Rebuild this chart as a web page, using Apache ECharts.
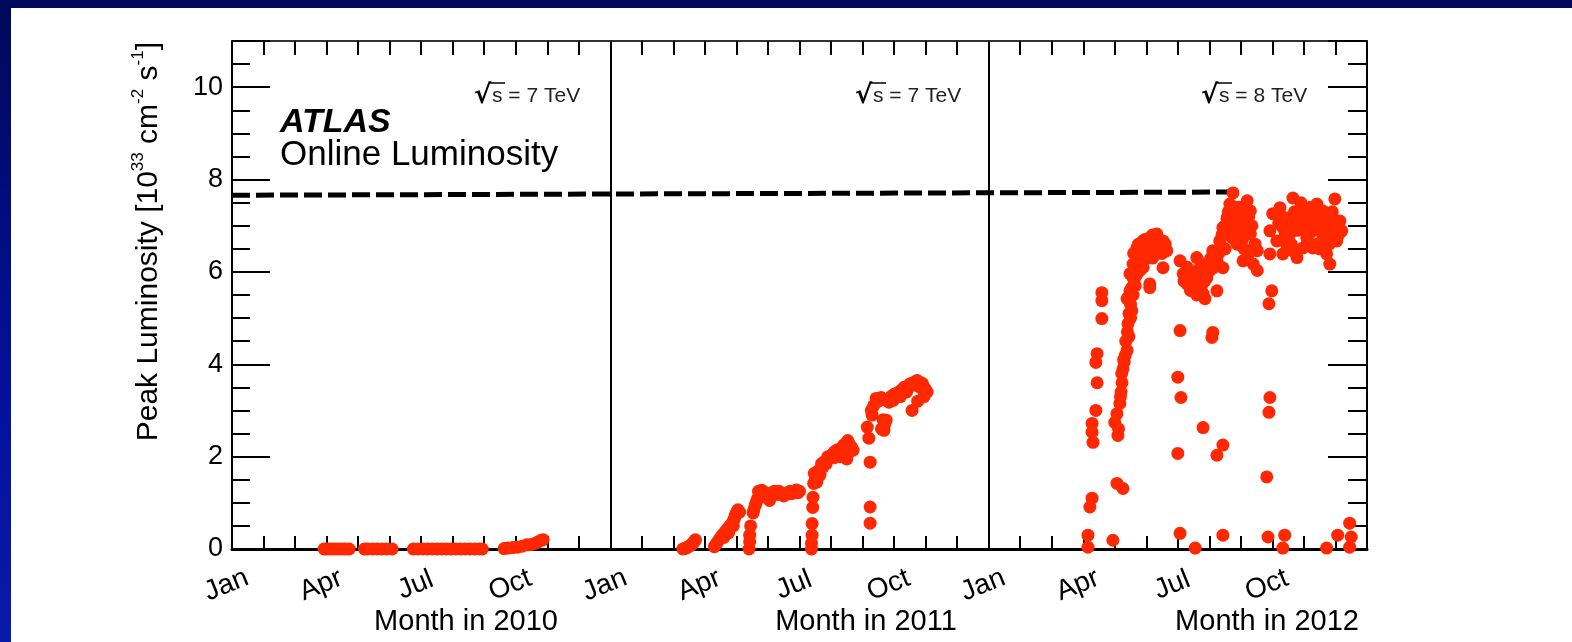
<!DOCTYPE html>
<html>
<head>
<meta charset="utf-8">
<script src="https://cdn.jsdelivr.net/npm/echarts@6/dist/echarts.min.js"></script>
<style>
html,body{margin:0;padding:0;width:1572px;height:642px;overflow:hidden;}
body{background:linear-gradient(180deg,#00085a 0%,#04109a 60%,#0a1aa8 100%);position:relative;}
#paper{position:absolute;left:11px;top:8px;right:0;bottom:0;background:#fff;}
#chart{position:absolute;left:0;top:0;width:1572px;height:642px;}
</style>
</head>
<body>
<div id="paper"></div>
<div id="chart"></div>
<script>
// ---- data (x = month within the year, 0 = 1 Jan; y = peak luminosity in 1e33 cm^-2 s^-1)
const monthNames = ['Jan','Feb','Mar','Apr','May','Jun','Jul','Aug','Sep','Oct','Nov','Dec'];
const years = [2010, 2011, 2012];
const yearTitles = ['Month in 2010','Month in 2011','Month in 2012'];
const energyTexts = ['s = 7 TeV','s = 7 TeV','s = 8 TeV'];
const yTicks = [0,2,4,6,8,10];

const data2010 = [
[2.92,0],[3.0,0],[3.1,0],[3.2,0],[3.3,0],[3.4,0],[3.5,0],[3.6,0],[3.72,0],
[4.2,0],[4.3,0],[4.45,0],[4.6,0],[4.75,0],[4.9,0],[5.08,0],
[5.75,0],[5.9,0],[6.05,0],[6.2,0],[6.35,0],[6.5,0],[6.65,0],[6.8,0],[6.95,0],[7.1,0],[7.25,0],[7.4,0],[7.55,0],[7.7,0],[7.85,0],[7.94,0],
[8.63,0.01],[8.75,0.02],[8.9,0.03],[9.05,0.04],[9.2,0.06],[9.35,0.09],[9.5,0.1],[9.6,0.12],[9.7,0.15],[9.8,0.19],[9.87,0.2]
];

const data2011 = [
[2.3,0.0],[2.35,0.01],[2.4,0.02],[2.45,0.04],[2.5,0.06],[2.55,0.08],[2.58,0.1],[2.62,0.13],[2.65,0.15],[2.68,0.18],[2.7,0.2],
[3.3,0.05],[3.35,0.1],[3.4,0.15],[3.45,0.2],[3.5,0.25],[3.55,0.3],[3.6,0.33],[3.65,0.38],[3.7,0.42],[3.75,0.47],[3.8,0.5],[3.85,0.55],[3.9,0.6],[3.93,0.65],[3.95,0.7],[3.98,0.75],[4.0,0.78],[4.03,0.82],[4.05,0.85],[4.1,0.8],[3.6,0.25],[3.75,0.35],[3.9,0.5],
[4.4,0.0],[4.42,0.15],[4.42,0.3],[4.45,0.5],
[4.53,0.78],[4.55,0.85],[4.6,0.95],[4.62,1.0],[4.65,1.05],[4.68,1.1],[4.72,1.15],[4.75,1.2],[4.8,1.27],[4.85,1.25],[4.9,1.22],[4.95,1.15],[5.0,1.1],[5.05,1.05],[5.1,1.2],[5.15,1.22],[5.2,1.25],[5.25,1.2],[5.3,1.18],[5.35,1.25],[5.4,1.22],[5.45,1.2],[5.5,1.15],[5.55,1.18],[5.6,1.2],[5.65,1.22],[5.7,1.25],[5.75,1.2],[5.8,1.22],[5.85,1.25],[5.9,1.28],[5.95,1.22],[6.0,1.25],[5.0,1.2],[4.7,1.25],
[6.38,0.0],[6.38,0.12],[6.4,0.3],[6.4,0.55],[6.42,0.9],[6.43,1.12],[6.45,1.42],[6.47,1.64],
[6.5,1.5],[6.55,1.45],[6.6,1.7],[6.65,1.6],[6.7,1.85],[6.75,1.78],[6.8,1.9],[6.85,1.85],[6.87,1.92],[6.9,2.0],[6.95,1.98],[7.0,2.02],[7.06,2.05],[7.1,2.1],[7.1,1.98],[7.15,2.08],[7.2,2.15],[7.25,2.12],[7.3,2.0],[7.35,2.15],[7.37,2.2],[7.4,2.25],[7.45,2.25],[7.5,1.95],[7.53,2.35],[7.55,2.3],[7.58,2.1],[7.6,2.25],[7.65,2.2],[7.7,2.14],
[8.24,1.88],[8.24,0.91],[8.24,0.56],
[8.15,2.64],[8.2,2.4],[8.28,3.0],[8.3,2.9],[8.35,3.1],[8.43,3.26],[8.5,3.2],[8.59,3.28],[8.6,2.6],[8.65,2.8],[8.65,3.25],[8.68,2.57],[8.7,2.7],[8.75,2.79],[8.8,3.2],[8.84,3.18],[8.9,3.3],[8.97,3.22],
[9.0,3.35],[9.1,3.37],[9.15,3.4],[9.2,3.3],[9.25,3.45],[9.32,3.5],[9.4,3.4],[9.45,3.5],[9.51,3.58],[9.57,3.0],[9.6,3.6],[9.65,3.55],[9.7,3.55],[9.73,3.65],[9.75,3.2],[9.83,3.5],[9.85,3.6],[9.9,3.58],[9.95,3.3],[9.95,3.5],[10.0,3.45],[10.05,3.4]
];

const data2012 = [
[3.15,0.04],[3.15,0.3],[3.21,0.91],[3.28,1.1],[3.31,2.31],[3.28,2.53],[3.28,2.72],[3.4,3.0],[3.44,3.6],[3.4,4.04],[3.44,4.23],[3.59,4.99],[3.59,5.38],[3.59,5.55],
[3.94,0.19],[4.07,1.42],[4.26,1.31],[4.1,2.46],[4.0,2.74],[4.07,2.93],[4.12,2.6],[4.16,3.15],[4.18,3.3],[4.2,3.4],[4.22,3.8],[4.23,3.6],[4.26,3.9],[4.28,4.1],[4.3,4.05],[4.33,4.19],[4.35,4.5],[4.39,4.3],[4.4,4.7],[4.45,4.6],[4.42,4.88],[4.45,5.1],[4.5,5.0],[4.5,5.3],[4.54,5.16],[4.39,5.42],[4.58,5.5],[4.54,5.66],[4.65,5.7],[4.64,5.87],[4.7,5.95],[4.76,6.1],[4.8,6.03],[4.89,6.24],[5.11,5.74],[5.02,6.39],
[4.7,6.52],[4.89,6.67],[5.11,6.74],[5.33,6.82],[5.53,6.67],[5.65,6.46],[5.53,6.09],[5.11,6.31],[4.8,6.31],[4.58,6.17],[4.48,5.96],[5.11,5.66],[4.58,5.87],[4.48,5.59],[4.42,5.44],[5.0,6.6],[5.25,6.55],[5.4,6.7],[4.95,6.45],
[4.6,6.4],[4.7,6.2],[4.75,6.6],[4.85,6.4],[4.95,6.7],[5.05,6.5],[5.15,6.6],[5.2,6.8],[5.3,6.6],[5.45,6.55],[5.5,6.4],[4.9,6.1],[5.2,6.3],[5.35,6.4],[5.6,6.6],
[6.07,6.24],[6.07,4.73],[6.0,3.72],[6.1,3.28],[6.0,2.07],[6.07,0.34],
[6.17,5.96],[6.29,5.74],[6.48,5.66],[6.6,6.31],[6.7,6.09],[6.8,5.53],[6.92,5.87],[7.02,6.03],[7.11,6.46],[7.24,6.24],[7.24,5.59],[6.86,5.42],[6.35,5.85],[6.55,5.75],[6.4,6.0],
[6.2,5.8],[6.25,5.9],[6.3,6.1],[6.45,5.8],[6.5,5.6],[6.65,5.9],[6.75,5.7],[6.85,5.8],[6.95,6.2],[7.05,6.3],[7.15,6.1],[7.2,6.4],[7.3,6.4],[6.6,5.5],[6.4,5.6],
[6.55,0.02],[6.8,2.63],[7.11,4.69],[7.08,4.58],[7.24,2.03],[7.43,2.25],[7.43,0.3],
[7.33,6.67],[7.43,6.96],[7.43,6.09],[7.56,7.17],[7.65,7.47],[7.75,7.71],[7.88,7.26],[7.72,6.74],[7.88,6.6],[8.07,6.24],[8.2,7.54],[8.3,7.32],[8.3,6.82],[8.39,6.17],[8.52,6.46],[8.52,6.03],[8.04,7.04],[8.2,6.96],[7.6,6.8],[7.8,7.0],[8.0,6.9],[8.1,7.3],[7.5,6.5],
[7.4,6.8],[7.5,7.0],[7.55,6.9],[7.6,7.3],[7.7,7.1],[7.75,6.9],[7.8,7.4],[7.85,6.8],[7.9,7.1],[7.95,7.4],[8.0,7.2],[8.05,6.7],[8.15,7.1],[8.25,7.2],[8.35,7.0],[8.45,6.6],[8.1,6.5],[8.25,6.4],
[8.92,6.89],[9.01,7.26],[8.92,6.39],[8.98,5.59],[8.89,5.31],[8.92,3.28],[8.89,2.96],[8.82,1.56],[8.86,0.26],[9.39,0.3],[9.33,0.02],
[9.24,7.39],[9.14,6.67],[9.33,6.39],[9.55,6.82],[9.65,7.6],[9.78,7.17],[9.78,6.31],[9.97,7.39],[10.09,6.74],[10.19,7.04],[10.28,6.52],[10.41,7.47],[10.5,6.89],[10.6,7.32],[10.72,6.39],[10.82,6.17],[10.98,7.58],[11.04,6.67],[11.14,7.1],[11.2,6.89],[9.46,7.17],[9.87,6.96],[10.28,7.17],[10.72,7.17],[10.92,6.82],[9.33,6.96],[9.97,6.52],[9.65,6.46],[9.4,6.8],[9.9,7.0],[10.3,6.9],[10.6,6.7],[10.0,7.2],[11.0,7.1],[9.2,7.05],[10.4,6.6],
[9.3,7.2],[9.5,7.0],[9.6,6.9],[9.7,7.3],[9.8,6.9],[9.85,7.3],[10.05,7.0],[10.15,6.8],[10.25,7.3],[10.35,7.1],[10.45,7.0],[10.55,7.1],[10.65,6.9],[10.75,6.8],[10.85,7.0],[10.9,7.3],[11.05,6.9],[11.1,6.8],[9.45,6.6],[10.1,6.6],[10.5,6.5],[10.8,6.6],[9.6,6.6],[10.2,7.4],[9.9,7.5],
[10.72,0.02],[11.07,0.3],[11.45,0.56],[11.5,0.26],[11.45,0.04]
];

// peak-luminosity reference line: [months since Jan 2010, value]
const peakLine = [[0, 7.66], [31.72, 7.73]];

// ---- build
const FONT = '"Liberation Sans", Arial, Helvetica, sans-serif';
const RED = '#ff2800';
const shift = (arr, yi) => arr.map(p => [p[0] + 12 * yi, p[1]]);
const allYears = [data2010, data2011, data2012];

const chart = echarts.init(document.getElementById('chart'), null, {renderer: 'canvas'});

function xAxisDef(pos, showLabel, tickLen, lw, col) {
  return {
    type: 'value', position: pos, min: 0, max: 36, interval: 1,
    axisLine: {show: true, onZero: false, lineStyle: {color: col, width: lw}},
    axisTick: {show: true, inside: true, length: tickLen, lineStyle: {color: '#000', width: 2}},
    splitLine: {show: false},
    axisLabel: showLabel ? {
      show: true,
      formatter: v => (v % 3 === 0 && v < 36) ? monthNames[v % 12] : '',
      rotate: 22, align: 'center', verticalAlign: 'middle', margin: 34,
      padding: [0, 12, 0, 0],
      fontSize: 28, color: '#000', fontFamily: FONT
    } : {show: false}
  };
}
function yAxisDef(pos, interval, tickLen, showLine, showLabel) {
  return {
    type: 'value', position: pos, min: 0, max: 11, interval: interval,
    axisLine: {show: showLine, onZero: false, lineStyle: {color: '#000', width: 2}},
    axisTick: {show: true, inside: true, length: tickLen, lineStyle: {color: '#000', width: 2}},
    splitLine: {show: false},
    axisLabel: showLabel ? {
      show: true, margin: 9,
      formatter: v => yTicks.indexOf(v) >= 0 ? String(v) : '',
      fontSize: 27, color: '#000', fontFamily: FONT
    } : {show: false}
  };
}

const graphics = [];
graphics.push({type: 'text', x: 280, y: 122.5, style: {text: 'ATLAS', font: 'italic bold 34px ' + FONT, fill: '#000', align: 'left', verticalAlign: 'middle'}});
graphics.push({type: 'text', x: 280, y: 155, style: {text: 'Online Luminosity', font: '35px ' + FONT, fill: '#000', align: 'left', verticalAlign: 'middle'}});
graphics.push({type: 'text', x: 147, y: 42, rotation: Math.PI / 2,
  style: {
    text: '{n|Peak Luminosity [10}{s|33}{n| cm}{s|-2}{n| s}{s|-1}{n|]}',
    align: 'right', verticalAlign: 'middle',
    rich: {
      n: {fontSize: 30, fontFamily: FONT, fill: '#000', lineHeight: 34, verticalAlign: 'bottom'},
      s: {fontSize: 17, fontFamily: FONT, fill: '#000', lineHeight: 17, verticalAlign: 'top'}
    }
  }});
const yearTitleX = [466, 866, 1267];
yearTitles.forEach((t, i) => {
  graphics.push({type: 'text', x: yearTitleX[i], y: 622, style: {text: t, font: '29px ' + FONT, fill: '#000', align: 'center', verticalAlign: 'middle'}});
});
const energyX = [474, 855, 1201];
energyTexts.forEach((t, i) => {
  graphics.push({type: 'group', x: energyX[i], y: 96, children: [
    {type: 'text', x: 0, y: 0, style: {text: '√', font: 'bold 26px "DejaVu Sans", ' + FONT, fill: '#000', align: 'left', verticalAlign: 'middle'}},
    {type: 'text', x: 18, y: 0, style: {text: t, font: '21px ' + FONT, fill: '#222', align: 'left', verticalAlign: 'middle'}},
    {type: 'line', shape: {x1: 15, y1: -13, x2: 31, y2: -13}, style: {stroke: '#000', lineWidth: 1.5}}
  ]});
});

const series = allYears.map((d, i) => ({
  type: 'scatter', name: String(years[i]), xAxisIndex: 0, yAxisIndex: 0,
  data: shift(d, i), symbol: 'circle', symbolSize: 13,
  itemStyle: {color: RED, opacity: 1}, z: 3,
  markLine: i === 0 ? {
    silent: true, symbol: ['none', 'none'], label: {show: false},
    lineStyle: {color: '#000', width: 2, type: 'solid'},
    data: [{xAxis: 12}, {xAxis: 24}]
  } : undefined
}));
series.push({
  type: 'line', xAxisIndex: 0, yAxisIndex: 0, data: peakLine, symbol: 'none', z: 2,
  lineStyle: {color: '#000', width: 5, type: [18, 6]}
});

chart.setOption({
  animation: false,
  backgroundColor: 'transparent',
  grid: {left: 232, right: 205, top: 41, bottom: 93, containLabel: false, outerBoundsMode: 'none'},
  xAxis: [xAxisDef('bottom', true, 13, 3, '#000'), xAxisDef('top', false, 14, 2, '#333')],
  yAxis: [
    yAxisDef('left', 0.5, 18, true, true),
    yAxisDef('left', 2, 38, false, false),
    yAxisDef('right', 0.5, 19, true, false),
    yAxisDef('right', 2, 39, false, false)
  ],
  series: series,
  graphic: graphics
});
</script>
</body>
</html>
